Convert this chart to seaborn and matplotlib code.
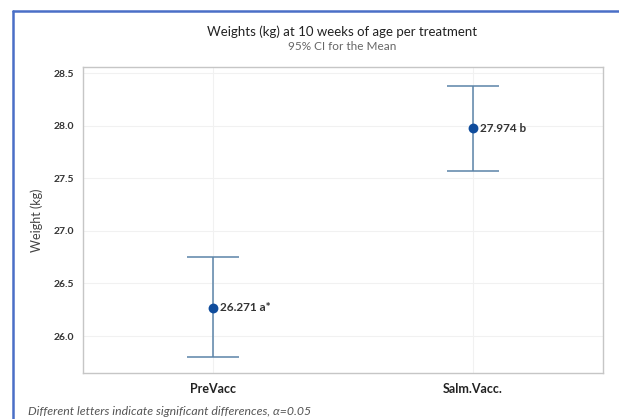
import matplotlib
matplotlib.use("Agg")
import matplotlib.pyplot as plt
import seaborn as sns
import pandas as pd

# Treatment groups, means and 95% confidence limits (kg)
treatments = ["PreVacc", "Salm.Vacc."]
means = [26.271, 27.974]
ci_lower = [25.80, 27.57]
ci_upper = [26.75, 28.38]
letters = ["a*", "b"]
y_ticks = [26.0, 26.5, 27.0, 27.5, 28.0, 28.5]

df = pd.DataFrame({"treatment": treatments, "mean": means,
                   "lo": ci_lower, "hi": ci_upper, "letter": letters})

sns.set_theme(style="white")
plt.rcParams["font.family"] = ["Lato", "DejaVu Sans"]

fig = plt.figure(figsize=(6.19, 4.19), dpi=100)
ax = fig.add_axes([0.134, 0.110, 0.840, 0.730])

x = list(range(len(treatments)))
# CI interval bars with caps
ax.errorbar(x, df["mean"],
            yerr=[df["mean"] - df["lo"], df["hi"] - df["mean"]],
            fmt="none", ecolor="#5b84a8", elinewidth=1.1,
            capsize=19, capthick=1.1, zorder=2)
# mean points
sns.scatterplot(x=x, y=df["mean"], ax=ax, color="#0f4c9c", s=50,
                edgecolor="#0f4c9c", linewidth=0, zorder=3, legend=False)

for xi, m, let in zip(x, df["mean"], df["letter"]):
    ax.annotate(f"{m:.3f} {let}", (xi, m), xytext=(5, 0),
                textcoords="offset points", va="center", ha="left",
                fontsize=8.5, fontweight="bold", color="#333333")

ax.set_xlim(-0.5, 1.5)
ax.set_ylim(25.65, 28.557)
ax.set_xticks(x)
ax.set_xticklabels(treatments, fontsize=9, fontweight="bold", color="#222222")
ax.set_yticks(y_ticks)
ax.set_yticklabels([f"{v:.1f}" for v in y_ticks], fontsize=7.5,
                   fontweight="bold", color="#333333")
ax.set_xlabel("")
ax.set_ylabel("Weight (kg)", fontsize=9, color="#444444", labelpad=8)

ax.grid(True, color="#f1f1f1", linewidth=0.8)
ax.set_axisbelow(True)
for s in ax.spines.values():
    s.set_color("#c6c6c6")
    s.set_linewidth(1.0)
ax.tick_params(axis="both", length=3, width=0.8, color="#c6c6c6",
               direction="out", pad=3)
ax.tick_params(axis="x", pad=4)

fig.text(0.553, 0.924, "Weights (kg) at 10 weeks of age per treatment",
         ha="center", va="center", fontsize=9.5, color="#222222")
fig.text(0.553, 0.889, "95% CI for the Mean", ha="center", va="center",
         fontsize=8.5, color="#666666")
fig.text(0.045, 0.017, "Different letters indicate significant differences, \u03b1=0.05",
         ha="left", va="center", fontsize=8.8, style="italic", color="#555555")

# framing border along the top and left edge
fig.add_artist(plt.Line2D([0.021, 1.0], [0.974, 0.974], transform=fig.transFigure,
                          color="#4a6fc7", linewidth=1.8))
fig.add_artist(plt.Line2D([0.021, 0.021], [0.0, 0.974], transform=fig.transFigure,
                          color="#4a6fc7", linewidth=1.8))

fig.savefig("out.png", dpi=100)
